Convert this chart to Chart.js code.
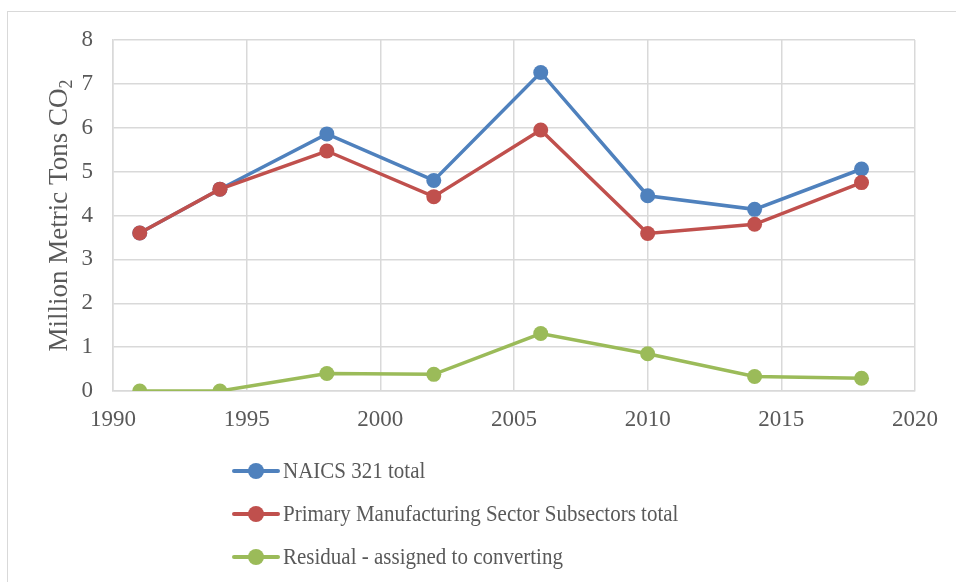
<!DOCTYPE html>
<html>
<head>
<meta charset="utf-8">
<script src="https://cdn.jsdelivr.net/npm/chart.js@4.4.1/dist/chart.umd.min.js"></script>
<style>
  html, body { margin: 0; padding: 0; background: #fff; }
  #wrap { position: relative; width: 956px; height: 582px; overflow: hidden; }
  #frame { position: absolute; left: 7px; top: 11px; right: -2px; bottom: -2px;
           border-left: 1.5px solid #d9d9d9; border-top: 1.5px solid #d9d9d9; }
  #chart { position: absolute; left: 0; top: 0; }
  #legend { position: absolute; left: 232px; top: 449px;
            font-family: "Liberation Serif", "Times New Roman", serif;
            font-size: 21px; color: #595959; }
  .item { height: 43px; display: flex; align-items: center; white-space: nowrap; }
  .item .txt { display: inline-block; transform: scaleY(1.12); transform-origin: left center; }
  .key { position: relative; width: 48px; height: 16px; margin-right: 3px; flex: none; }
  .key .ln { position: absolute; left: 0; right: 0; top: 6px; height: 4px; border-radius: 2px; }
  .key .dot { position: absolute; left: 16px; top: 0; width: 16px; height: 16px; border-radius: 50%; }
</style>
</head>
<body>
<div id="wrap">
  <div id="frame"></div>
  <canvas id="chart" width="956" height="582"></canvas>
  <div id="legend"></div>
</div>
<script>
// survey years and emissions (million metric tons CO2)
const years = [1991, 1994, 1998, 2002, 2006, 2010, 2014, 2018];
const naicsTotal = [3.60, 4.60, 5.86, 4.80, 7.26, 4.45, 4.14, 5.06];
const primaryTotal = [3.60, 4.60, 5.47, 4.43, 5.95, 3.59, 3.80, 4.75];
const residual = [0, 0, 0.40, 0.38, 1.31, 0.85, 0.33, 0.29];

const seriesNames = [
  'NAICS 321 total',
  'Primary Manufacturing Sector Subsectors total',
  'Residual - assigned to converting'
];
const seriesColors = ['#4f81bd', '#c0504d', '#9bbb59'];

const xTicks = { min: 1990, max: 2020, step: 5 };
const yTicks = { min: 0, max: 8, step: 1 };

const serif = '"Liberation Serif", "Times New Roman", serif';
const gridColor = '#d9d9d9';
const textColor = '#595959';

function toPoints(values) {
  return years.map((y, i) => ({ x: y, y: values[i] }));
}

// y axis title with subscript, drawn rotated
const yTitlePlugin = {
  id: 'yTitle',
  afterDraw(chart) {
    const ctx = chart.ctx;
    const area = chart.chartArea;
    const main = 'Million Metric Tons CO';
    const sub = '2';
    ctx.save();
    ctx.fillStyle = textColor;
    ctx.textBaseline = 'alphabetic';
    ctx.textAlign = 'left';
    ctx.font = '27px ' + serif;
    const w1 = ctx.measureText(main).width;
    ctx.font = '18px ' + serif;
    const w2 = ctx.measureText(sub).width;
    ctx.translate(67, (area.top + area.bottom) / 2);
    ctx.rotate(-Math.PI / 2);
    const start = -(w1 + w2) / 2;
    ctx.font = '27px ' + serif;
    ctx.fillText(main, start, 0);
    ctx.font = '18px ' + serif;
    ctx.fillText(sub, start + w1, 5);
    ctx.restore();
  }
};

const datasets = [naicsTotal, primaryTotal, residual].map((vals, i) => ({
  label: seriesNames[i],
  data: toPoints(vals),
  borderColor: seriesColors[i],
  backgroundColor: seriesColors[i],
  borderWidth: 3.5,
  pointRadius: 7.5,
  pointHoverRadius: 7.5,
  pointBorderWidth: 0,
  tension: 0,
  order: 3 - i
}));

new Chart(document.getElementById('chart'), {
  type: 'line',
  data: { datasets: datasets },
  options: {
    responsive: false,
    animation: false,
    layout: { padding: { left: 0, right: 41, top: 40, bottom: 151 } },
    plugins: {
      legend: { display: false },
      tooltip: { enabled: false }
    },
    scales: {
      x: {
        type: 'linear',
        min: xTicks.min,
        max: xTicks.max,
        afterFit: s => { s.height = 40; },
        ticks: {
          stepSize: xTicks.step,
          padding: 15,
          color: textColor,
          font: { family: serif, size: 23 },
          callback: v => String(v)
        },
        grid: { color: gridColor, lineWidth: 1.5, drawTicks: false },
        border: { color: gridColor, width: 1.5 }
      },
      y: {
        min: yTicks.min,
        max: yTicks.max,
        afterFit: s => { s.width = 113; },
        ticks: {
          stepSize: yTicks.step,
          padding: 20,
          color: textColor,
          font: { family: serif, size: 23 }
        },
        grid: { color: gridColor, lineWidth: 1.5, drawTicks: false },
        border: { color: gridColor, width: 1.5 }
      }
    }
  },
  plugins: [yTitlePlugin]
});

// legend as a vertical list below the plot
const legend = document.getElementById('legend');
seriesNames.forEach((name, i) => {
  const item = document.createElement('div');
  item.className = 'item';
  item.innerHTML = '<span class="key"><span class="ln" style="background:' + seriesColors[i] +
    '"></span><span class="dot" style="background:' + seriesColors[i] + '"></span></span>' +
    '<span class="txt">' + name + '</span>';
  legend.appendChild(item);
});
</script>
</body>
</html>
